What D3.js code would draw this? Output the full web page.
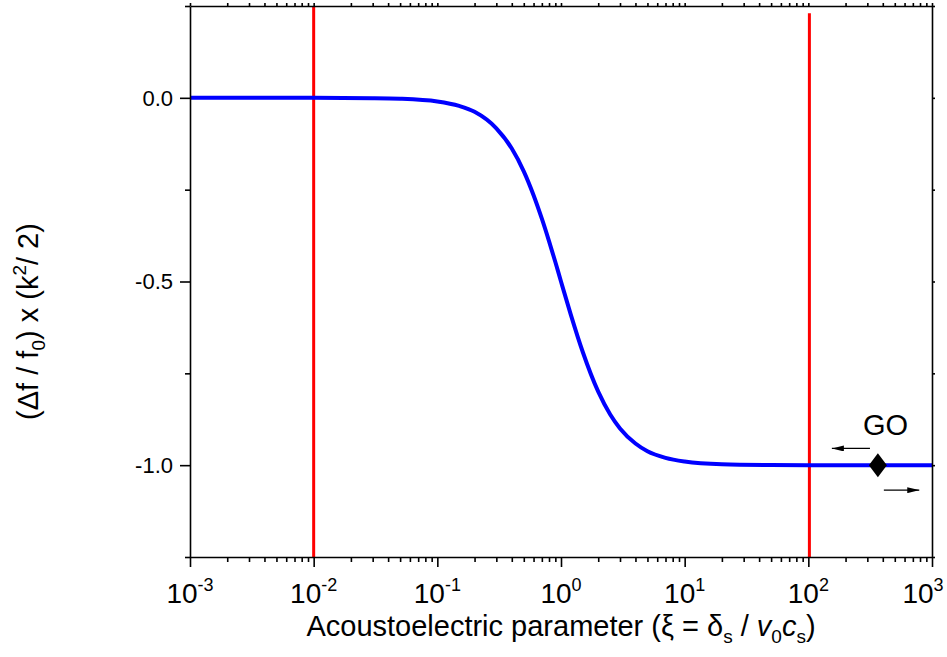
<!DOCTYPE html>
<html>
<head>
<meta charset="utf-8">
<script src="https://cdn.jsdelivr.net/npm/d3@7"></script>
<style>
  body { margin: 0; background: #fff; }
  text { font-family: Arial, "Liberation Sans", sans-serif; fill: #000; }
</style>
</head>
<body>
<svg id="chart"></svg>
<script>
// curve
const xiValues = [0.001, 0.01, 0.03, 0.05, 0.1, 0.15, 0.2, 0.3, 0.4, 0.5, 0.6, 0.7, 0.8, 0.9, 1.0,
                  1.2, 1.5, 2.0, 2.5, 3.0, 4.0, 5.0, 7.0, 10, 20, 50, 100, 1000];
const shiftValues = [0, -0.0001, -0.001, -0.0025, -0.010, -0.022, -0.038, -0.083, -0.138, -0.200, -0.265,
                     -0.329, -0.390, -0.447, -0.500, -0.590, -0.692, -0.800, -0.862, -0.900, -0.941,
                     -0.962, -0.980, -0.990, -0.9975, -0.9996, -1.0, -1.0];

const redLineXi = [0.01, 102];
const redLineTop = [0.25, 0.23];

const xMajorTicks = [1e-3, 1e-2, 1e-1, 1e0, 1e1, 1e2, 1e3];
const xExponents = ["-3", "-2", "-1", "0", "1", "2", "3"];
const yMajorTicks = [0, -0.5, -1.0];
const yMinorTicks = [0.25, -0.25, -0.75, -1.25];
const yTickLabels = ["0.0", "-0.5", "-1.0"];

const goMarker = { xi: 365, v: -1.0 };
const goLabel = { xi: 421, v: -0.919, text: "GO" };
const arrows = [
  { from: 315, to: 155, v: -0.9545 },
  { from: 408, to: 789, v: -1.068 }
];

const width = 947, height = 657;
const margin = { top: 6, right: 15, bottom: 100, left: 190 };
const innerW = width - margin.left - margin.right;
const innerH = height - margin.top - margin.bottom;

const svg = d3.select("#chart").attr("width", width).attr("height", height);
const g = svg.append("g").attr("transform", `translate(${margin.left},${margin.top})`);

const x = d3.scaleLog().domain([1e-3, 1e3]).range([0, innerW]);
const y = d3.scaleLinear().domain([-1.25, 0.25]).range([innerH, 0]);

// minor ticks 2..9 in each decade
const xMinorTicks = [];
xMajorTicks.slice(0, -1).forEach(d => {
  for (let k = 2; k <= 9; k++) xMinorTicks.push(d * k);
});

// red lines
g.selectAll(".red-line")
  .data(redLineXi)
  .enter().append("line")
  .attr("class", "red-line")
  .attr("x1", d => x(d)).attr("x2", d => x(d))
  .attr("y1", (d, i) => y(redLineTop[i]))
  .attr("y2", innerH)
  .attr("stroke", "#ff0000")
  .attr("stroke-width", 3);

// curve
const data = xiValues.map((d, i) => ({ xi: d, v: shiftValues[i] }));
g.append("path")
  .datum(data)
  .attr("fill", "none")
  .attr("stroke", "#0000ff")
  .attr("stroke-width", 4)
  .attr("d", d3.line().x(d => x(d.xi)).y(d => y(d.v)).curve(d3.curveMonotoneX));

// frame
const axisStyle = sel => sel.selectAll("path, line").attr("stroke", "#000").attr("stroke-width", 1.6);

// bottom axis
const axBottom = g.append("g").attr("transform", `translate(0,${innerH})`)
  .call(d3.axisBottom(x).tickValues(xMajorTicks.concat(xMinorTicks)).tickFormat("").tickSizeOuter(0));
axBottom.selectAll(".tick line").attr("y2", d => xMajorTicks.includes(d) ? 10 : 5);
axBottom.call(axisStyle);

// top axis
const axTop = g.append("g")
  .call(d3.axisTop(x).tickValues(xMajorTicks.concat(xMinorTicks)).tickFormat("").tickSize(3).tickSizeOuter(0));
axTop.call(axisStyle);

// left axis
const axLeft = g.append("g")
  .call(d3.axisLeft(y).tickValues(yMajorTicks.concat(yMinorTicks)).tickFormat("").tickSizeOuter(0));
axLeft.selectAll(".tick line").attr("x2", d => yMajorTicks.includes(d) ? -10 : -5);
axLeft.call(axisStyle);

// right axis
const axRight = g.append("g").attr("transform", `translate(${innerW},0)`)
  .call(d3.axisRight(y).tickValues(yMajorTicks.concat(yMinorTicks)).tickFormat("").tickSize(3).tickSizeOuter(0));
axRight.call(axisStyle);

// x tick labels with superscripts
const xl = g.selectAll(".xlabel")
  .data(xMajorTicks)
  .enter().append("text")
  .attr("class", "xlabel")
  .attr("x", (d, i) => x(d) + (i === xMajorTicks.length - 1 ? -9 : 0))
  .attr("y", innerH + 46)
  .attr("text-anchor", "middle")
  .style("font-size", "28px");
xl.append("tspan").text("10");
xl.append("tspan").attr("dy", -12).style("font-size", "18px").text((d, i) => xExponents[i]);

// y tick labels
g.selectAll(".ylabel")
  .data(yMajorTicks)
  .enter().append("text")
  .attr("class", "ylabel")
  .attr("x", -17)
  .attr("y", d => y(d))
  .attr("dy", "0.36em")
  .attr("text-anchor", "end")
  .style("font-size", "22px")
  .text((d, i) => yTickLabels[i]);

// x title
const xt = g.append("text")
  .attr("x", innerW / 2)
  .attr("y", innerH + 79)
  .attr("text-anchor", "middle")
  .style("font-size", "29px");
xt.append("tspan").text("Acoustoelectric parameter (ξ = δ");
xt.append("tspan").attr("dy", 7).style("font-size", "19px").text("s");
xt.append("tspan").attr("dy", -7).text(" / ");
xt.append("tspan").style("font-style", "italic").text("v");
xt.append("tspan").attr("dy", 7).style("font-size", "19px").text("0");
xt.append("tspan").attr("dy", -7).style("font-style", "italic").text("c");
xt.append("tspan").attr("dy", 7).style("font-size", "19px").text("s");
xt.append("tspan").attr("dy", -7).text(")");

// y title
const yt = g.append("text")
  .attr("transform", `translate(${-152},${innerH / 2 + 40}) rotate(-90)`)
  .attr("text-anchor", "middle")
  .style("font-size", "29px");
yt.append("tspan").text("(Δf / f");
yt.append("tspan").attr("dy", 7).style("font-size", "19px").text("0");
yt.append("tspan").attr("dy", -7).text(") x (k");
yt.append("tspan").attr("dy", -12).style("font-size", "19px").text("2");
yt.append("tspan").attr("dy", 12).text("/ 2)");

// GO marker
const mx = x(goMarker.xi), my = y(goMarker.v);
g.append("path")
  .attr("d", `M${mx},${my - 12}L${mx + 9},${my}L${mx},${my + 12}L${mx - 9},${my}Z`)
  .attr("fill", "#000");

g.append("text")
  .attr("x", x(goLabel.xi))
  .attr("y", y(goLabel.v))
  .attr("text-anchor", "middle")
  .style("font-size", "29px")
  .text(goLabel.text);

// arrows
svg.append("defs").append("marker")
  .attr("id", "arrowhead")
  .attr("viewBox", "0 0 12 6")
  .attr("refX", 12).attr("refY", 3)
  .attr("markerWidth", 12).attr("markerHeight", 6)
  .attr("markerUnits", "userSpaceOnUse")
  .attr("orient", "auto")
  .append("path").attr("d", "M0,0L12,3L0,6Z").attr("fill", "#000");

g.selectAll(".arrow")
  .data(arrows)
  .enter().append("line")
  .attr("class", "arrow")
  .attr("x1", d => x(d.from)).attr("x2", d => x(d.to))
  .attr("y1", d => y(d.v)).attr("y2", d => y(d.v))
  .attr("stroke", "#000")
  .attr("stroke-width", 1.2)
  .attr("marker-end", "url(#arrowhead)");
</script>
</body>
</html>
